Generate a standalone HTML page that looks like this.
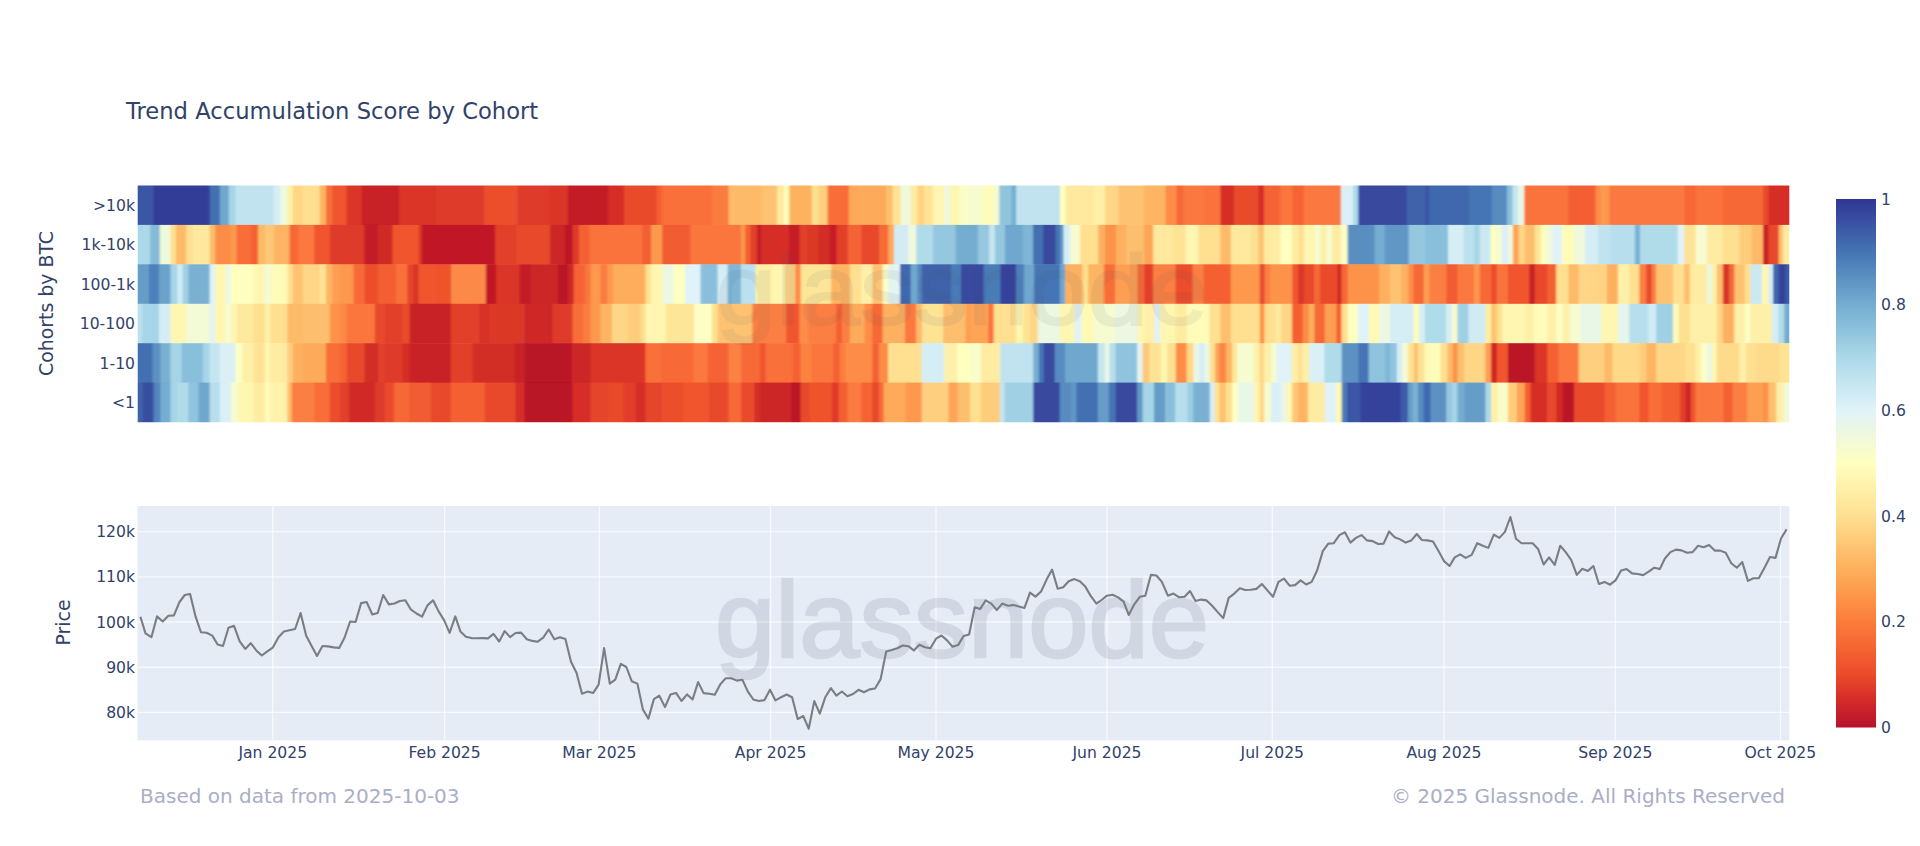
<!DOCTYPE html>
<html><head><meta charset="utf-8"><title>Trend Accumulation Score by Cohort</title>
<style>html,body{margin:0;padding:0;background:#fff;overflow:hidden}svg{display:block}</style></head>
<body>
<svg width="1920" height="846" viewBox="0 0 1920 846">
<rect width="1920" height="846" fill="#fff"/>
<text x="126" y="119" font-family="DejaVu Sans, Liberation Sans, sans-serif" font-size="22.65" fill="#31426a">Trend Accumulation Score by Cohort</text>
<defs><filter id="hb" x="-2%" y="-5%" width="104%" height="110%"><feGaussianBlur stdDeviation="1.1 0.45"/></filter><clipPath id="hc"><rect x="137.7" y="185.6" width="1651.6" height="236.6"/></clipPath></defs>
<g clip-path="url(#hc)"><g filter="url(#hb)">
<rect x="129.5" y="179.5" width="24.7" height="45.9" fill="#3b56a5"/>
<rect x="153.6" y="179.5" width="56.6" height="45.9" fill="#333c98"/>
<rect x="209.6" y="179.5" width="10.9" height="45.9" fill="#436fb1"/>
<rect x="219.9" y="179.5" width="9.6" height="45.9" fill="#6fa7ce"/>
<rect x="228.9" y="179.5" width="7.2" height="45.9" fill="#a6d5e7"/>
<rect x="235.4" y="179.5" width="38.9" height="45.9" fill="#c0e3ef"/>
<rect x="273.7" y="179.5" width="7.4" height="45.9" fill="#d5eef5"/>
<rect x="280.5" y="179.5" width="7.4" height="45.9" fill="#eff9dc"/>
<rect x="287.3" y="179.5" width="6.1" height="45.9" fill="#fef0a8"/>
<rect x="292.8" y="179.5" width="10.7" height="45.9" fill="#fed686"/>
<rect x="302.8" y="179.5" width="17.4" height="45.9" fill="#fee090"/>
<rect x="319.7" y="179.5" width="6.9" height="45.9" fill="#fdb563"/>
<rect x="326.0" y="179.5" width="6.7" height="45.9" fill="#f86d39"/>
<rect x="332.1" y="179.5" width="15.0" height="45.9" fill="#f0552d"/>
<rect x="346.6" y="179.5" width="15.9" height="45.9" fill="#da3428"/>
<rect x="361.9" y="179.5" width="37.8" height="45.9" fill="#c82127"/>
<rect x="399.1" y="179.5" width="37.8" height="45.9" fill="#da3428"/>
<rect x="436.2" y="179.5" width="48.7" height="45.9" fill="#de3b29"/>
<rect x="484.4" y="179.5" width="33.4" height="45.9" fill="#ec4e2c"/>
<rect x="517.2" y="179.5" width="33.4" height="45.9" fill="#de3b29"/>
<rect x="550.0" y="179.5" width="18.5" height="45.9" fill="#da3428"/>
<rect x="567.9" y="179.5" width="41.1" height="45.9" fill="#c41c27"/>
<rect x="608.4" y="179.5" width="16.4" height="45.9" fill="#d62f28"/>
<rect x="624.2" y="179.5" width="33.2" height="45.9" fill="#e94b2c"/>
<rect x="656.8" y="179.5" width="6.1" height="45.9" fill="#f46133"/>
<rect x="662.2" y="179.5" width="50.0" height="45.9" fill="#f9703a"/>
<rect x="711.7" y="179.5" width="17.4" height="45.9" fill="#fb7c40"/>
<rect x="728.5" y="179.5" width="34.3" height="45.9" fill="#fdba68"/>
<rect x="762.2" y="179.5" width="15.5" height="45.9" fill="#fdc372"/>
<rect x="777.1" y="179.5" width="7.4" height="45.9" fill="#fee99e"/>
<rect x="783.8" y="179.5" width="6.1" height="45.9" fill="#fffcba"/>
<rect x="789.3" y="179.5" width="23.1" height="45.9" fill="#fdb260"/>
<rect x="811.8" y="179.5" width="7.4" height="45.9" fill="#fee090"/>
<rect x="818.6" y="179.5" width="9.6" height="45.9" fill="#fecf7e"/>
<rect x="827.6" y="179.5" width="21.8" height="45.9" fill="#f86d39"/>
<rect x="848.8" y="179.5" width="9.6" height="45.9" fill="#fda758"/>
<rect x="857.8" y="179.5" width="28.8" height="45.9" fill="#fdaa5a"/>
<rect x="886.0" y="179.5" width="7.4" height="45.9" fill="#fdbe6d"/>
<rect x="892.8" y="179.5" width="8.5" height="45.9" fill="#fee395"/>
<rect x="900.7" y="179.5" width="10.7" height="45.9" fill="#eff9dc"/>
<rect x="910.7" y="179.5" width="7.4" height="45.9" fill="#feeca3"/>
<rect x="917.5" y="179.5" width="7.2" height="45.9" fill="#fed281"/>
<rect x="924.1" y="179.5" width="9.6" height="45.9" fill="#fee395"/>
<rect x="933.0" y="179.5" width="12.0" height="45.9" fill="#fff6b1"/>
<rect x="944.4" y="179.5" width="6.1" height="45.9" fill="#ecf8e1"/>
<rect x="949.9" y="179.5" width="10.7" height="45.9" fill="#fff6b1"/>
<rect x="959.9" y="179.5" width="10.7" height="45.9" fill="#f9fdca"/>
<rect x="970.0" y="179.5" width="13.1" height="45.9" fill="#f6fbd0"/>
<rect x="982.5" y="179.5" width="11.8" height="45.9" fill="#fffcba"/>
<rect x="993.6" y="179.5" width="6.3" height="45.9" fill="#f6fbd0"/>
<rect x="999.3" y="179.5" width="12.8" height="45.9" fill="#90c3dd"/>
<rect x="1011.6" y="179.5" width="5.2" height="45.9" fill="#74add1"/>
<rect x="1016.2" y="179.5" width="44.4" height="45.9" fill="#c0e3ef"/>
<rect x="1059.9" y="179.5" width="6.3" height="45.9" fill="#ffffbf"/>
<rect x="1065.6" y="179.5" width="28.6" height="45.9" fill="#fee99e"/>
<rect x="1093.6" y="179.5" width="12.0" height="45.9" fill="#fef0a8"/>
<rect x="1105.0" y="179.5" width="13.9" height="45.9" fill="#fed686"/>
<rect x="1118.3" y="179.5" width="26.4" height="45.9" fill="#fdc372"/>
<rect x="1144.1" y="179.5" width="22.0" height="45.9" fill="#fdb563"/>
<rect x="1165.6" y="179.5" width="11.8" height="45.9" fill="#fc8c47"/>
<rect x="1176.7" y="179.5" width="7.4" height="45.9" fill="#f66736"/>
<rect x="1183.5" y="179.5" width="20.7" height="45.9" fill="#fb793f"/>
<rect x="1203.6" y="179.5" width="17.4" height="45.9" fill="#fa733c"/>
<rect x="1220.5" y="179.5" width="14.2" height="45.9" fill="#d62f28"/>
<rect x="1234.0" y="179.5" width="24.9" height="45.9" fill="#e94b2c"/>
<rect x="1258.3" y="179.5" width="6.3" height="45.9" fill="#d62f28"/>
<rect x="1264.0" y="179.5" width="17.0" height="45.9" fill="#f56434"/>
<rect x="1280.4" y="179.5" width="12.8" height="45.9" fill="#fa763d"/>
<rect x="1292.7" y="179.5" width="11.8" height="45.9" fill="#f56434"/>
<rect x="1303.8" y="179.5" width="37.8" height="45.9" fill="#fb793f"/>
<rect x="1341.0" y="179.5" width="12.8" height="45.9" fill="#dbf0f6"/>
<rect x="1353.2" y="179.5" width="5.6" height="45.9" fill="#abd9e9"/>
<rect x="1358.3" y="179.5" width="32.3" height="45.9" fill="#37499e"/>
<rect x="1390.0" y="179.5" width="17.2" height="45.9" fill="#37499e"/>
<rect x="1406.6" y="179.5" width="19.0" height="45.9" fill="#3f62ab"/>
<rect x="1425.0" y="179.5" width="5.0" height="45.9" fill="#3b56a5"/>
<rect x="1429.4" y="179.5" width="40.0" height="45.9" fill="#4168ae"/>
<rect x="1468.8" y="179.5" width="23.8" height="45.9" fill="#4575b4"/>
<rect x="1491.9" y="179.5" width="15.7" height="45.9" fill="#588bc0"/>
<rect x="1507.0" y="179.5" width="6.1" height="45.9" fill="#8abfdb"/>
<rect x="1512.5" y="179.5" width="6.1" height="45.9" fill="#c5e6f0"/>
<rect x="1518.0" y="179.5" width="6.9" height="45.9" fill="#e9f7e7"/>
<rect x="1524.3" y="179.5" width="44.4" height="45.9" fill="#fa733c"/>
<rect x="1568.1" y="179.5" width="27.9" height="45.9" fill="#f35e32"/>
<rect x="1595.4" y="179.5" width="6.3" height="45.9" fill="#fc8c47"/>
<rect x="1601.1" y="179.5" width="8.9" height="45.9" fill="#fd984e"/>
<rect x="1609.4" y="179.5" width="75.4" height="45.9" fill="#fb793f"/>
<rect x="1684.2" y="179.5" width="12.0" height="45.9" fill="#f66736"/>
<rect x="1695.6" y="179.5" width="27.5" height="45.9" fill="#fa733c"/>
<rect x="1722.5" y="179.5" width="41.1" height="45.9" fill="#f66736"/>
<rect x="1763.0" y="179.5" width="6.1" height="45.9" fill="#e94b2c"/>
<rect x="1768.4" y="179.5" width="29.5" height="45.9" fill="#d62f28"/>
<rect x="129.5" y="224.9" width="21.2" height="39.9" fill="#abd9e9"/>
<rect x="150.1" y="224.9" width="10.2" height="39.9" fill="#84bad8"/>
<rect x="159.8" y="224.9" width="11.3" height="39.9" fill="#eff9dc"/>
<rect x="170.5" y="224.9" width="6.1" height="39.9" fill="#fee090"/>
<rect x="175.9" y="224.9" width="10.9" height="39.9" fill="#fdba68"/>
<rect x="186.2" y="224.9" width="7.2" height="39.9" fill="#fee090"/>
<rect x="192.8" y="224.9" width="17.4" height="39.9" fill="#fee99e"/>
<rect x="209.6" y="224.9" width="6.3" height="39.9" fill="#fdbe6d"/>
<rect x="215.3" y="224.9" width="15.3" height="39.9" fill="#fc8c47"/>
<rect x="230.0" y="224.9" width="7.4" height="39.9" fill="#fd984e"/>
<rect x="236.8" y="224.9" width="15.0" height="39.9" fill="#f86d39"/>
<rect x="251.2" y="224.9" width="7.4" height="39.9" fill="#f46133"/>
<rect x="258.0" y="224.9" width="7.4" height="39.9" fill="#fdba68"/>
<rect x="264.8" y="224.9" width="9.6" height="39.9" fill="#fec877"/>
<rect x="273.7" y="224.9" width="16.4" height="39.9" fill="#fdb563"/>
<rect x="289.5" y="224.9" width="9.6" height="39.9" fill="#f66736"/>
<rect x="298.4" y="224.9" width="16.4" height="39.9" fill="#fb793f"/>
<rect x="314.2" y="224.9" width="16.4" height="39.9" fill="#f0552d"/>
<rect x="329.9" y="224.9" width="34.7" height="39.9" fill="#de3b29"/>
<rect x="364.1" y="224.9" width="14.8" height="39.9" fill="#c41c27"/>
<rect x="378.3" y="224.9" width="14.8" height="39.9" fill="#d12a28"/>
<rect x="392.5" y="224.9" width="26.9" height="39.9" fill="#f0552d"/>
<rect x="418.8" y="224.9" width="3.9" height="39.9" fill="#da3428"/>
<rect x="422.0" y="224.9" width="73.9" height="39.9" fill="#c01827"/>
<rect x="495.3" y="224.9" width="22.5" height="39.9" fill="#e3412a"/>
<rect x="517.2" y="224.9" width="33.4" height="39.9" fill="#e7482b"/>
<rect x="550.0" y="224.9" width="15.3" height="39.9" fill="#cd2627"/>
<rect x="564.7" y="224.9" width="8.5" height="39.9" fill="#bd1627"/>
<rect x="572.5" y="224.9" width="7.2" height="39.9" fill="#de3b29"/>
<rect x="579.1" y="224.9" width="10.9" height="39.9" fill="#f46133"/>
<rect x="589.4" y="224.9" width="53.3" height="39.9" fill="#fa733c"/>
<rect x="642.1" y="224.9" width="9.6" height="39.9" fill="#f35e32"/>
<rect x="651.1" y="224.9" width="11.8" height="39.9" fill="#fd984e"/>
<rect x="662.2" y="224.9" width="28.8" height="39.9" fill="#f25b30"/>
<rect x="690.4" y="224.9" width="51.1" height="39.9" fill="#fa763d"/>
<rect x="741.0" y="224.9" width="4.8" height="39.9" fill="#fd984e"/>
<rect x="745.1" y="224.9" width="5.6" height="39.9" fill="#f46133"/>
<rect x="750.2" y="224.9" width="7.4" height="39.9" fill="#e3412a"/>
<rect x="756.9" y="224.9" width="5.0" height="39.9" fill="#c41c27"/>
<rect x="761.3" y="224.9" width="27.5" height="39.9" fill="#d62f28"/>
<rect x="788.2" y="224.9" width="12.0" height="39.9" fill="#c61e27"/>
<rect x="799.6" y="224.9" width="8.5" height="39.9" fill="#e3412a"/>
<rect x="807.5" y="224.9" width="11.8" height="39.9" fill="#dc3728"/>
<rect x="818.6" y="224.9" width="11.8" height="39.9" fill="#d32d28"/>
<rect x="829.8" y="224.9" width="7.4" height="39.9" fill="#c61e27"/>
<rect x="836.6" y="224.9" width="11.8" height="39.9" fill="#e3412a"/>
<rect x="847.7" y="224.9" width="14.2" height="39.9" fill="#f56434"/>
<rect x="861.3" y="224.9" width="18.5" height="39.9" fill="#e7482b"/>
<rect x="879.2" y="224.9" width="9.6" height="39.9" fill="#f76a38"/>
<rect x="888.2" y="224.9" width="6.3" height="39.9" fill="#fda758"/>
<rect x="893.9" y="224.9" width="15.0" height="39.9" fill="#d3ecf4"/>
<rect x="908.3" y="224.9" width="8.5" height="39.9" fill="#eff9dc"/>
<rect x="916.2" y="224.9" width="17.4" height="39.9" fill="#b0dcea"/>
<rect x="933.0" y="224.9" width="23.1" height="39.9" fill="#95c7df"/>
<rect x="955.6" y="224.9" width="15.0" height="39.9" fill="#74add1"/>
<rect x="970.0" y="224.9" width="8.7" height="39.9" fill="#74add1"/>
<rect x="978.1" y="224.9" width="11.8" height="39.9" fill="#95c7df"/>
<rect x="989.2" y="224.9" width="6.3" height="39.9" fill="#c5e6f0"/>
<rect x="994.9" y="224.9" width="10.7" height="39.9" fill="#95c7df"/>
<rect x="1005.0" y="224.9" width="18.5" height="39.9" fill="#6fa7ce"/>
<rect x="1022.9" y="224.9" width="10.7" height="39.9" fill="#7fb6d6"/>
<rect x="1033.0" y="224.9" width="10.7" height="39.9" fill="#436fb1"/>
<rect x="1043.1" y="224.9" width="13.1" height="39.9" fill="#37499e"/>
<rect x="1055.5" y="224.9" width="5.0" height="39.9" fill="#4575b4"/>
<rect x="1059.9" y="224.9" width="4.1" height="39.9" fill="#5d91c3"/>
<rect x="1063.4" y="224.9" width="7.4" height="39.9" fill="#d5eef5"/>
<rect x="1070.2" y="224.9" width="10.7" height="39.9" fill="#f6fbd0"/>
<rect x="1080.2" y="224.9" width="18.5" height="39.9" fill="#fee090"/>
<rect x="1098.2" y="224.9" width="7.4" height="39.9" fill="#fdb05e"/>
<rect x="1105.0" y="224.9" width="11.8" height="39.9" fill="#fd924a"/>
<rect x="1116.1" y="224.9" width="10.7" height="39.9" fill="#fdb05e"/>
<rect x="1126.2" y="224.9" width="18.5" height="39.9" fill="#fdbe6d"/>
<rect x="1144.1" y="224.9" width="9.6" height="39.9" fill="#fda456"/>
<rect x="1153.1" y="224.9" width="19.9" height="39.9" fill="#fee99e"/>
<rect x="1172.3" y="224.9" width="13.9" height="39.9" fill="#fee395"/>
<rect x="1185.7" y="224.9" width="13.1" height="39.9" fill="#fff6b1"/>
<rect x="1198.2" y="224.9" width="22.9" height="39.9" fill="#fee090"/>
<rect x="1220.5" y="224.9" width="10.9" height="39.9" fill="#fdba68"/>
<rect x="1230.8" y="224.9" width="20.7" height="39.9" fill="#fee99e"/>
<rect x="1250.9" y="224.9" width="8.0" height="39.9" fill="#fee090"/>
<rect x="1258.3" y="224.9" width="6.3" height="39.9" fill="#fdc372"/>
<rect x="1264.0" y="224.9" width="17.0" height="39.9" fill="#feeca3"/>
<rect x="1280.4" y="224.9" width="11.8" height="39.9" fill="#ffffbf"/>
<rect x="1291.6" y="224.9" width="7.4" height="39.9" fill="#feeca3"/>
<rect x="1298.3" y="224.9" width="6.1" height="39.9" fill="#fee090"/>
<rect x="1303.8" y="224.9" width="12.0" height="39.9" fill="#fff6b1"/>
<rect x="1315.2" y="224.9" width="6.1" height="39.9" fill="#f6fbd0"/>
<rect x="1320.7" y="224.9" width="6.3" height="39.9" fill="#fef0a8"/>
<rect x="1326.3" y="224.9" width="6.3" height="39.9" fill="#f6fbd0"/>
<rect x="1332.0" y="224.9" width="9.6" height="39.9" fill="#feeca3"/>
<rect x="1341.0" y="224.9" width="7.2" height="39.9" fill="#fcfec5"/>
<rect x="1347.6" y="224.9" width="27.7" height="39.9" fill="#5a8ec1"/>
<rect x="1374.7" y="224.9" width="10.7" height="39.9" fill="#74add1"/>
<rect x="1384.8" y="224.9" width="5.8" height="39.9" fill="#6197c5"/>
<rect x="1390.0" y="224.9" width="19.2" height="39.9" fill="#6197c5"/>
<rect x="1408.6" y="224.9" width="17.0" height="39.9" fill="#95c7df"/>
<rect x="1425.0" y="224.9" width="23.6" height="39.9" fill="#8abfdb"/>
<rect x="1448.0" y="224.9" width="15.9" height="39.9" fill="#d5eef5"/>
<rect x="1463.3" y="224.9" width="11.5" height="39.9" fill="#bbe1ee"/>
<rect x="1474.2" y="224.9" width="6.1" height="39.9" fill="#a6d5e7"/>
<rect x="1479.7" y="224.9" width="11.5" height="39.9" fill="#cbe9f2"/>
<rect x="1490.6" y="224.9" width="5.6" height="39.9" fill="#ffffbf"/>
<rect x="1495.7" y="224.9" width="6.7" height="39.9" fill="#f6fbd0"/>
<rect x="1501.8" y="224.9" width="6.7" height="39.9" fill="#dbf0f6"/>
<rect x="1507.9" y="224.9" width="5.6" height="39.9" fill="#eff9dc"/>
<rect x="1512.9" y="224.9" width="6.3" height="39.9" fill="#fda456"/>
<rect x="1518.6" y="224.9" width="6.7" height="39.9" fill="#fed686"/>
<rect x="1524.8" y="224.9" width="10.7" height="39.9" fill="#fdbe6d"/>
<rect x="1534.8" y="224.9" width="6.3" height="39.9" fill="#fee395"/>
<rect x="1540.5" y="224.9" width="6.3" height="39.9" fill="#fffcba"/>
<rect x="1546.2" y="224.9" width="7.2" height="39.9" fill="#eff9dc"/>
<rect x="1552.8" y="224.9" width="9.6" height="39.9" fill="#e0f3f8"/>
<rect x="1561.7" y="224.9" width="13.1" height="39.9" fill="#fffcba"/>
<rect x="1574.2" y="224.9" width="11.8" height="39.9" fill="#eff9dc"/>
<rect x="1585.3" y="224.9" width="13.1" height="39.9" fill="#d5eef5"/>
<rect x="1597.8" y="224.9" width="12.8" height="39.9" fill="#c0e3ef"/>
<rect x="1610.1" y="224.9" width="25.5" height="39.9" fill="#b6deec"/>
<rect x="1635.0" y="224.9" width="5.6" height="39.9" fill="#7ab1d3"/>
<rect x="1640.0" y="224.9" width="38.2" height="39.9" fill="#b0dcea"/>
<rect x="1677.7" y="224.9" width="7.2" height="39.9" fill="#e0f3f8"/>
<rect x="1684.2" y="224.9" width="12.0" height="39.9" fill="#fee395"/>
<rect x="1695.6" y="224.9" width="11.8" height="39.9" fill="#f6fbd0"/>
<rect x="1706.8" y="224.9" width="16.4" height="39.9" fill="#feeca3"/>
<rect x="1722.5" y="224.9" width="17.4" height="39.9" fill="#fee090"/>
<rect x="1739.3" y="224.9" width="12.8" height="39.9" fill="#fecd7c"/>
<rect x="1751.6" y="224.9" width="12.0" height="39.9" fill="#fdba68"/>
<rect x="1763.0" y="224.9" width="6.1" height="39.9" fill="#c82127"/>
<rect x="1768.4" y="224.9" width="10.9" height="39.9" fill="#e7482b"/>
<rect x="1778.7" y="224.9" width="5.0" height="39.9" fill="#fdbe6d"/>
<rect x="1783.1" y="224.9" width="14.8" height="39.9" fill="#feeca3"/>
<rect x="129.5" y="264.3" width="20.1" height="39.9" fill="#669cc8"/>
<rect x="149.0" y="264.3" width="10.7" height="39.9" fill="#4e80ba"/>
<rect x="159.1" y="264.3" width="12.0" height="39.9" fill="#6ba2cb"/>
<rect x="170.5" y="264.3" width="7.4" height="39.9" fill="#a6d5e7"/>
<rect x="177.2" y="264.3" width="6.1" height="39.9" fill="#d0ebf4"/>
<rect x="182.7" y="264.3" width="6.3" height="39.9" fill="#a0d0e4"/>
<rect x="188.4" y="264.3" width="21.8" height="39.9" fill="#7ab1d3"/>
<rect x="209.6" y="264.3" width="6.3" height="39.9" fill="#e0f3f8"/>
<rect x="215.3" y="264.3" width="10.7" height="39.9" fill="#fff6b1"/>
<rect x="225.4" y="264.3" width="6.3" height="39.9" fill="#ecf8e1"/>
<rect x="231.1" y="264.3" width="23.1" height="39.9" fill="#ffffbf"/>
<rect x="253.6" y="264.3" width="11.8" height="39.9" fill="#fff6b1"/>
<rect x="264.8" y="264.3" width="6.3" height="39.9" fill="#f3fad6"/>
<rect x="270.4" y="264.3" width="17.4" height="39.9" fill="#fffcba"/>
<rect x="287.3" y="264.3" width="6.1" height="39.9" fill="#fee090"/>
<rect x="292.8" y="264.3" width="10.7" height="39.9" fill="#fdc372"/>
<rect x="302.8" y="264.3" width="17.4" height="39.9" fill="#fed686"/>
<rect x="319.7" y="264.3" width="6.9" height="39.9" fill="#fee395"/>
<rect x="326.0" y="264.3" width="6.7" height="39.9" fill="#fdb563"/>
<rect x="332.1" y="264.3" width="8.5" height="39.9" fill="#fd9e52"/>
<rect x="340.0" y="264.3" width="14.2" height="39.9" fill="#fd984e"/>
<rect x="353.6" y="264.3" width="11.8" height="39.9" fill="#f76a38"/>
<rect x="364.7" y="264.3" width="14.2" height="39.9" fill="#ec4e2c"/>
<rect x="378.3" y="264.3" width="18.5" height="39.9" fill="#f35e32"/>
<rect x="396.2" y="264.3" width="11.8" height="39.9" fill="#f9703a"/>
<rect x="407.4" y="264.3" width="6.3" height="39.9" fill="#e5442a"/>
<rect x="413.1" y="264.3" width="6.1" height="39.9" fill="#da3428"/>
<rect x="418.5" y="264.3" width="17.4" height="39.9" fill="#f0552d"/>
<rect x="435.4" y="264.3" width="16.4" height="39.9" fill="#ee522c"/>
<rect x="451.1" y="264.3" width="35.4" height="39.9" fill="#fc8946"/>
<rect x="485.9" y="264.3" width="10.7" height="39.9" fill="#c01827"/>
<rect x="496.0" y="264.3" width="24.2" height="39.9" fill="#da3428"/>
<rect x="519.6" y="264.3" width="12.0" height="39.9" fill="#c41c27"/>
<rect x="531.0" y="264.3" width="19.6" height="39.9" fill="#cd2627"/>
<rect x="550.0" y="264.3" width="8.5" height="39.9" fill="#cd2627"/>
<rect x="557.9" y="264.3" width="10.9" height="39.9" fill="#b91226"/>
<rect x="568.2" y="264.3" width="6.1" height="39.9" fill="#cd2627"/>
<rect x="573.6" y="264.3" width="12.0" height="39.9" fill="#f56434"/>
<rect x="585.0" y="264.3" width="6.1" height="39.9" fill="#fa763d"/>
<rect x="590.5" y="264.3" width="10.7" height="39.9" fill="#fd984e"/>
<rect x="600.5" y="264.3" width="7.4" height="39.9" fill="#fb7c40"/>
<rect x="607.3" y="264.3" width="6.3" height="39.9" fill="#fd984e"/>
<rect x="613.0" y="264.3" width="33.2" height="39.9" fill="#fdad5c"/>
<rect x="645.6" y="264.3" width="6.1" height="39.9" fill="#fee395"/>
<rect x="651.1" y="264.3" width="12.0" height="39.9" fill="#fff6b1"/>
<rect x="662.4" y="264.3" width="11.8" height="39.9" fill="#ecf8e1"/>
<rect x="673.6" y="264.3" width="12.0" height="39.9" fill="#ffffbf"/>
<rect x="685.0" y="264.3" width="16.1" height="39.9" fill="#e0f3f8"/>
<rect x="700.5" y="264.3" width="17.7" height="39.9" fill="#8abfdb"/>
<rect x="717.6" y="264.3" width="10.7" height="39.9" fill="#d5eef5"/>
<rect x="727.6" y="264.3" width="13.9" height="39.9" fill="#7fb6d6"/>
<rect x="741.0" y="264.3" width="15.3" height="39.9" fill="#bbe1ee"/>
<rect x="755.6" y="264.3" width="17.4" height="39.9" fill="#fef0a8"/>
<rect x="772.5" y="264.3" width="13.1" height="39.9" fill="#fff6b1"/>
<rect x="784.9" y="264.3" width="10.7" height="39.9" fill="#fed686"/>
<rect x="795.0" y="264.3" width="6.3" height="39.9" fill="#fc8c47"/>
<rect x="800.7" y="264.3" width="31.0" height="39.9" fill="#fee699"/>
<rect x="831.1" y="264.3" width="19.4" height="39.9" fill="#fdb563"/>
<rect x="849.9" y="264.3" width="12.0" height="39.9" fill="#fee090"/>
<rect x="861.3" y="264.3" width="11.8" height="39.9" fill="#fef0a8"/>
<rect x="872.4" y="264.3" width="10.7" height="39.9" fill="#fdc372"/>
<rect x="882.5" y="264.3" width="6.3" height="39.9" fill="#fcfec5"/>
<rect x="888.2" y="264.3" width="12.4" height="39.9" fill="#e3f4f2"/>
<rect x="900.0" y="264.3" width="11.3" height="39.9" fill="#4168ae"/>
<rect x="910.7" y="264.3" width="7.2" height="39.9" fill="#6fa7ce"/>
<rect x="917.3" y="264.3" width="5.2" height="39.9" fill="#5386bd"/>
<rect x="921.9" y="264.3" width="29.7" height="39.9" fill="#3f62ab"/>
<rect x="951.0" y="264.3" width="10.7" height="39.9" fill="#4a7bb7"/>
<rect x="961.0" y="264.3" width="9.6" height="39.9" fill="#37499e"/>
<rect x="970.0" y="264.3" width="14.2" height="39.9" fill="#37499e"/>
<rect x="983.6" y="264.3" width="17.4" height="39.9" fill="#4a7bb7"/>
<rect x="1000.4" y="264.3" width="16.4" height="39.9" fill="#35439b"/>
<rect x="1016.2" y="264.3" width="8.5" height="39.9" fill="#4e80ba"/>
<rect x="1024.0" y="264.3" width="10.7" height="39.9" fill="#6fa7ce"/>
<rect x="1034.1" y="264.3" width="26.4" height="39.9" fill="#4575b4"/>
<rect x="1059.9" y="264.3" width="5.8" height="39.9" fill="#6fa7ce"/>
<rect x="1065.2" y="264.3" width="17.9" height="39.9" fill="#fdb05e"/>
<rect x="1082.4" y="264.3" width="6.3" height="39.9" fill="#fee090"/>
<rect x="1088.1" y="264.3" width="16.4" height="39.9" fill="#fdb563"/>
<rect x="1103.9" y="264.3" width="11.8" height="39.9" fill="#f86d39"/>
<rect x="1115.0" y="264.3" width="23.1" height="39.9" fill="#fd9e52"/>
<rect x="1137.6" y="264.3" width="7.2" height="39.9" fill="#f66736"/>
<rect x="1144.1" y="264.3" width="9.6" height="39.9" fill="#e3412a"/>
<rect x="1153.1" y="264.3" width="23.1" height="39.9" fill="#fb7f42"/>
<rect x="1175.6" y="264.3" width="17.4" height="39.9" fill="#ec4e2c"/>
<rect x="1192.5" y="264.3" width="11.8" height="39.9" fill="#fb7f42"/>
<rect x="1203.6" y="264.3" width="27.7" height="39.9" fill="#f46133"/>
<rect x="1230.8" y="264.3" width="29.7" height="39.9" fill="#fd984e"/>
<rect x="1259.8" y="264.3" width="5.2" height="39.9" fill="#e7482b"/>
<rect x="1264.4" y="264.3" width="6.3" height="39.9" fill="#fb7f42"/>
<rect x="1270.1" y="264.3" width="22.9" height="39.9" fill="#fd924a"/>
<rect x="1292.4" y="264.3" width="6.3" height="39.9" fill="#f0552d"/>
<rect x="1298.1" y="264.3" width="6.3" height="39.9" fill="#da3428"/>
<rect x="1303.8" y="264.3" width="10.7" height="39.9" fill="#e7482b"/>
<rect x="1313.9" y="264.3" width="6.7" height="39.9" fill="#f66736"/>
<rect x="1320.0" y="264.3" width="18.1" height="39.9" fill="#e94b2c"/>
<rect x="1337.5" y="264.3" width="4.5" height="39.9" fill="#cd2627"/>
<rect x="1341.4" y="264.3" width="6.7" height="39.9" fill="#f66736"/>
<rect x="1347.6" y="264.3" width="32.1" height="39.9" fill="#fd924a"/>
<rect x="1379.1" y="264.3" width="11.5" height="39.9" fill="#fdb05e"/>
<rect x="1390.0" y="264.3" width="11.8" height="39.9" fill="#fdc372"/>
<rect x="1401.2" y="264.3" width="8.0" height="39.9" fill="#fdb05e"/>
<rect x="1408.6" y="264.3" width="5.6" height="39.9" fill="#fc8c47"/>
<rect x="1413.6" y="264.3" width="10.7" height="39.9" fill="#f66736"/>
<rect x="1423.7" y="264.3" width="6.3" height="39.9" fill="#fd9e52"/>
<rect x="1429.4" y="264.3" width="17.4" height="39.9" fill="#fb7f42"/>
<rect x="1446.2" y="264.3" width="11.8" height="39.9" fill="#f25b30"/>
<rect x="1457.4" y="264.3" width="17.4" height="39.9" fill="#fb793f"/>
<rect x="1474.2" y="264.3" width="6.3" height="39.9" fill="#fd984e"/>
<rect x="1479.9" y="264.3" width="11.8" height="39.9" fill="#f66736"/>
<rect x="1491.1" y="264.3" width="6.3" height="39.9" fill="#ec4e2c"/>
<rect x="1496.8" y="264.3" width="11.8" height="39.9" fill="#fa733c"/>
<rect x="1507.9" y="264.3" width="22.0" height="39.9" fill="#f0552d"/>
<rect x="1529.3" y="264.3" width="6.1" height="39.9" fill="#c82127"/>
<rect x="1534.8" y="264.3" width="13.1" height="39.9" fill="#e7482b"/>
<rect x="1547.3" y="264.3" width="9.6" height="39.9" fill="#f46133"/>
<rect x="1556.2" y="264.3" width="12.8" height="39.9" fill="#fee090"/>
<rect x="1568.5" y="264.3" width="10.7" height="39.9" fill="#fdba68"/>
<rect x="1578.6" y="264.3" width="14.2" height="39.9" fill="#fed686"/>
<rect x="1592.1" y="264.3" width="15.3" height="39.9" fill="#fed484"/>
<rect x="1606.8" y="264.3" width="11.8" height="39.9" fill="#fdb05e"/>
<rect x="1617.9" y="264.3" width="12.0" height="39.9" fill="#fef0a8"/>
<rect x="1629.3" y="264.3" width="10.7" height="39.9" fill="#fee090"/>
<rect x="1639.4" y="264.3" width="7.4" height="39.9" fill="#fb7f42"/>
<rect x="1646.2" y="264.3" width="6.1" height="39.9" fill="#e7482b"/>
<rect x="1651.6" y="264.3" width="5.2" height="39.9" fill="#fb7f42"/>
<rect x="1656.2" y="264.3" width="17.4" height="39.9" fill="#fdc372"/>
<rect x="1673.1" y="264.3" width="11.8" height="39.9" fill="#fee090"/>
<rect x="1684.2" y="264.3" width="6.3" height="39.9" fill="#fdbe6d"/>
<rect x="1689.9" y="264.3" width="17.4" height="39.9" fill="#feeca3"/>
<rect x="1706.8" y="264.3" width="5.6" height="39.9" fill="#ecf8e1"/>
<rect x="1711.8" y="264.3" width="5.6" height="39.9" fill="#fef0a8"/>
<rect x="1716.8" y="264.3" width="6.7" height="39.9" fill="#fdbe6d"/>
<rect x="1722.9" y="264.3" width="6.9" height="39.9" fill="#da3428"/>
<rect x="1729.3" y="264.3" width="5.6" height="39.9" fill="#f66736"/>
<rect x="1734.3" y="264.3" width="11.1" height="39.9" fill="#fdc372"/>
<rect x="1744.8" y="264.3" width="6.3" height="39.9" fill="#fee090"/>
<rect x="1750.5" y="264.3" width="12.0" height="39.9" fill="#cbe9f2"/>
<rect x="1761.9" y="264.3" width="7.2" height="39.9" fill="#fff6b1"/>
<rect x="1768.4" y="264.3" width="5.2" height="39.9" fill="#d5eef5"/>
<rect x="1773.0" y="264.3" width="6.1" height="39.9" fill="#4168ae"/>
<rect x="1778.5" y="264.3" width="7.6" height="39.9" fill="#35439b"/>
<rect x="1785.5" y="264.3" width="12.4" height="39.9" fill="#3d5ca8"/>
<rect x="129.5" y="303.8" width="13.3" height="39.9" fill="#bbe1ee"/>
<rect x="142.2" y="303.8" width="17.4" height="39.9" fill="#a6d5e7"/>
<rect x="159.1" y="303.8" width="12.0" height="39.9" fill="#d5eef5"/>
<rect x="170.5" y="303.8" width="16.4" height="39.9" fill="#fff6b1"/>
<rect x="186.2" y="303.8" width="24.0" height="39.9" fill="#f3fad6"/>
<rect x="209.6" y="303.8" width="6.3" height="39.9" fill="#e3f4f2"/>
<rect x="215.3" y="303.8" width="10.7" height="39.9" fill="#fff6b1"/>
<rect x="225.4" y="303.8" width="6.3" height="39.9" fill="#f6fbd0"/>
<rect x="231.1" y="303.8" width="6.3" height="39.9" fill="#fff6b1"/>
<rect x="236.8" y="303.8" width="17.4" height="39.9" fill="#fee99e"/>
<rect x="253.6" y="303.8" width="11.8" height="39.9" fill="#fee090"/>
<rect x="264.8" y="303.8" width="6.3" height="39.9" fill="#fef0a8"/>
<rect x="270.4" y="303.8" width="17.4" height="39.9" fill="#fee090"/>
<rect x="287.3" y="303.8" width="16.1" height="39.9" fill="#fdba68"/>
<rect x="302.8" y="303.8" width="27.7" height="39.9" fill="#fdbe6d"/>
<rect x="329.9" y="303.8" width="10.7" height="39.9" fill="#fd924a"/>
<rect x="340.0" y="303.8" width="7.4" height="39.9" fill="#fc8946"/>
<rect x="346.8" y="303.8" width="28.6" height="39.9" fill="#fa763d"/>
<rect x="374.8" y="303.8" width="10.7" height="39.9" fill="#e7482b"/>
<rect x="384.8" y="303.8" width="18.5" height="39.9" fill="#e3412a"/>
<rect x="402.8" y="303.8" width="7.4" height="39.9" fill="#e94b2c"/>
<rect x="409.6" y="303.8" width="42.2" height="39.9" fill="#c82127"/>
<rect x="451.1" y="303.8" width="28.6" height="39.9" fill="#e3412a"/>
<rect x="479.1" y="303.8" width="10.9" height="39.9" fill="#d83228"/>
<rect x="489.4" y="303.8" width="35.4" height="39.9" fill="#dc3728"/>
<rect x="524.2" y="303.8" width="26.4" height="39.9" fill="#cf2828"/>
<rect x="550.0" y="303.8" width="3.0" height="39.9" fill="#cd2627"/>
<rect x="552.4" y="303.8" width="20.7" height="39.9" fill="#de3b29"/>
<rect x="572.5" y="303.8" width="10.7" height="39.9" fill="#f86d39"/>
<rect x="582.6" y="303.8" width="8.5" height="39.9" fill="#fb7c40"/>
<rect x="590.5" y="303.8" width="10.7" height="39.9" fill="#fd984e"/>
<rect x="600.5" y="303.8" width="12.0" height="39.9" fill="#fdb563"/>
<rect x="611.9" y="303.8" width="16.4" height="39.9" fill="#fed686"/>
<rect x="627.7" y="303.8" width="13.9" height="39.9" fill="#fecd7c"/>
<rect x="641.0" y="303.8" width="5.2" height="39.9" fill="#fee090"/>
<rect x="645.6" y="303.8" width="20.9" height="39.9" fill="#fff6b1"/>
<rect x="665.9" y="303.8" width="28.6" height="39.9" fill="#fee699"/>
<rect x="693.9" y="303.8" width="18.5" height="39.9" fill="#fcfec5"/>
<rect x="711.9" y="303.8" width="6.3" height="39.9" fill="#fee090"/>
<rect x="717.6" y="303.8" width="35.4" height="39.9" fill="#fdc372"/>
<rect x="752.3" y="303.8" width="34.5" height="39.9" fill="#fb7f42"/>
<rect x="786.2" y="303.8" width="13.7" height="39.9" fill="#f0552d"/>
<rect x="799.4" y="303.8" width="9.6" height="39.9" fill="#fc8c47"/>
<rect x="808.3" y="303.8" width="28.4" height="39.9" fill="#fb7f42"/>
<rect x="836.1" y="303.8" width="6.5" height="39.9" fill="#f46133"/>
<rect x="842.0" y="303.8" width="8.5" height="39.9" fill="#fb7f42"/>
<rect x="849.9" y="303.8" width="15.3" height="39.9" fill="#fdaa5a"/>
<rect x="864.6" y="303.8" width="8.5" height="39.9" fill="#fc8c47"/>
<rect x="872.4" y="303.8" width="10.7" height="39.9" fill="#f66736"/>
<rect x="882.5" y="303.8" width="23.1" height="39.9" fill="#fdb05e"/>
<rect x="905.0" y="303.8" width="11.8" height="39.9" fill="#fb793f"/>
<rect x="916.2" y="303.8" width="6.3" height="39.9" fill="#fdba68"/>
<rect x="921.9" y="303.8" width="21.8" height="39.9" fill="#fee395"/>
<rect x="943.1" y="303.8" width="23.1" height="39.9" fill="#fdbe6d"/>
<rect x="965.6" y="303.8" width="5.0" height="39.9" fill="#fd9e52"/>
<rect x="970.0" y="303.8" width="18.8" height="39.9" fill="#fda456"/>
<rect x="988.2" y="303.8" width="6.1" height="39.9" fill="#fa733c"/>
<rect x="993.6" y="303.8" width="23.1" height="39.9" fill="#fee090"/>
<rect x="1016.2" y="303.8" width="7.4" height="39.9" fill="#fff6b1"/>
<rect x="1022.9" y="303.8" width="7.4" height="39.9" fill="#fee395"/>
<rect x="1029.7" y="303.8" width="8.5" height="39.9" fill="#fed686"/>
<rect x="1037.6" y="303.8" width="22.9" height="39.9" fill="#ecf8e1"/>
<rect x="1059.9" y="303.8" width="15.3" height="39.9" fill="#fff6b1"/>
<rect x="1074.6" y="303.8" width="7.4" height="39.9" fill="#e0f3f8"/>
<rect x="1081.3" y="303.8" width="12.8" height="39.9" fill="#fff9b6"/>
<rect x="1093.6" y="303.8" width="22.0" height="39.9" fill="#f6fbd0"/>
<rect x="1115.0" y="303.8" width="23.1" height="39.9" fill="#ecf8e1"/>
<rect x="1137.6" y="303.8" width="7.2" height="39.9" fill="#fff6b1"/>
<rect x="1144.1" y="303.8" width="10.9" height="39.9" fill="#fef0a8"/>
<rect x="1154.4" y="303.8" width="6.1" height="39.9" fill="#e0f3f8"/>
<rect x="1159.9" y="303.8" width="16.4" height="39.9" fill="#fff6b1"/>
<rect x="1175.6" y="303.8" width="11.8" height="39.9" fill="#feeca3"/>
<rect x="1186.8" y="303.8" width="23.1" height="39.9" fill="#fffcba"/>
<rect x="1209.3" y="303.8" width="11.8" height="39.9" fill="#fee090"/>
<rect x="1220.5" y="303.8" width="10.9" height="39.9" fill="#fdbe6d"/>
<rect x="1230.8" y="303.8" width="29.7" height="39.9" fill="#fee090"/>
<rect x="1259.8" y="303.8" width="5.2" height="39.9" fill="#fd924a"/>
<rect x="1264.4" y="303.8" width="11.3" height="39.9" fill="#fee090"/>
<rect x="1275.2" y="303.8" width="6.7" height="39.9" fill="#fee99e"/>
<rect x="1281.3" y="303.8" width="11.3" height="39.9" fill="#fed686"/>
<rect x="1292.0" y="303.8" width="11.3" height="39.9" fill="#f46133"/>
<rect x="1302.7" y="303.8" width="6.7" height="39.9" fill="#fc8c47"/>
<rect x="1308.8" y="303.8" width="6.3" height="39.9" fill="#fdb05e"/>
<rect x="1314.5" y="303.8" width="10.7" height="39.9" fill="#f66736"/>
<rect x="1324.6" y="303.8" width="12.4" height="39.9" fill="#fd9e52"/>
<rect x="1336.4" y="303.8" width="5.6" height="39.9" fill="#f46133"/>
<rect x="1341.4" y="303.8" width="6.7" height="39.9" fill="#fee090"/>
<rect x="1347.6" y="303.8" width="10.7" height="39.9" fill="#ffffbf"/>
<rect x="1357.6" y="303.8" width="11.8" height="39.9" fill="#e0f3f8"/>
<rect x="1368.8" y="303.8" width="10.9" height="39.9" fill="#fff9b6"/>
<rect x="1379.1" y="303.8" width="11.5" height="39.9" fill="#ecf8e1"/>
<rect x="1390.0" y="303.8" width="24.2" height="39.9" fill="#d5eef5"/>
<rect x="1413.6" y="303.8" width="6.1" height="39.9" fill="#fffcba"/>
<rect x="1419.1" y="303.8" width="6.3" height="39.9" fill="#d5eef5"/>
<rect x="1424.8" y="303.8" width="22.0" height="39.9" fill="#b0dcea"/>
<rect x="1446.2" y="303.8" width="6.1" height="39.9" fill="#d5eef5"/>
<rect x="1451.7" y="303.8" width="6.3" height="39.9" fill="#f6fbd0"/>
<rect x="1457.4" y="303.8" width="11.8" height="39.9" fill="#a0d0e4"/>
<rect x="1468.5" y="303.8" width="17.4" height="39.9" fill="#d0ebf4"/>
<rect x="1485.4" y="303.8" width="6.3" height="39.9" fill="#feeca3"/>
<rect x="1491.1" y="303.8" width="6.3" height="39.9" fill="#fdc372"/>
<rect x="1496.8" y="303.8" width="6.1" height="39.9" fill="#fee090"/>
<rect x="1502.2" y="303.8" width="23.1" height="39.9" fill="#fff6b1"/>
<rect x="1524.8" y="303.8" width="9.6" height="39.9" fill="#fef0a8"/>
<rect x="1533.7" y="303.8" width="14.2" height="39.9" fill="#fffcba"/>
<rect x="1547.3" y="303.8" width="9.6" height="39.9" fill="#fef0a8"/>
<rect x="1556.2" y="303.8" width="7.2" height="39.9" fill="#fcfec5"/>
<rect x="1562.8" y="303.8" width="7.4" height="39.9" fill="#fef0a8"/>
<rect x="1569.6" y="303.8" width="12.0" height="39.9" fill="#f6fbd0"/>
<rect x="1581.0" y="303.8" width="20.7" height="39.9" fill="#e9f7e7"/>
<rect x="1601.1" y="303.8" width="17.4" height="39.9" fill="#fff6b1"/>
<rect x="1617.9" y="303.8" width="12.0" height="39.9" fill="#e6f5ed"/>
<rect x="1629.3" y="303.8" width="19.6" height="39.9" fill="#b6deec"/>
<rect x="1648.3" y="303.8" width="8.5" height="39.9" fill="#d0ebf4"/>
<rect x="1656.2" y="303.8" width="17.4" height="39.9" fill="#a0d0e4"/>
<rect x="1673.1" y="303.8" width="6.3" height="39.9" fill="#fffcba"/>
<rect x="1678.8" y="303.8" width="11.8" height="39.9" fill="#fee090"/>
<rect x="1689.9" y="303.8" width="27.5" height="39.9" fill="#fef0a8"/>
<rect x="1716.8" y="303.8" width="6.7" height="39.9" fill="#fed686"/>
<rect x="1722.9" y="303.8" width="12.0" height="39.9" fill="#fdb05e"/>
<rect x="1734.3" y="303.8" width="11.1" height="39.9" fill="#fef0a8"/>
<rect x="1744.8" y="303.8" width="6.3" height="39.9" fill="#fcfec5"/>
<rect x="1750.5" y="303.8" width="22.0" height="39.9" fill="#fef0a8"/>
<rect x="1771.9" y="303.8" width="7.2" height="39.9" fill="#d5eef5"/>
<rect x="1778.5" y="303.8" width="6.3" height="39.9" fill="#b0dcea"/>
<rect x="1784.2" y="303.8" width="13.7" height="39.9" fill="#74add1"/>
<rect x="129.5" y="343.2" width="23.6" height="39.9" fill="#436fb1"/>
<rect x="152.5" y="343.2" width="8.5" height="39.9" fill="#5d91c3"/>
<rect x="160.4" y="343.2" width="10.7" height="39.9" fill="#7ab1d3"/>
<rect x="170.5" y="343.2" width="11.8" height="39.9" fill="#a6d5e7"/>
<rect x="181.6" y="343.2" width="22.0" height="39.9" fill="#8abfdb"/>
<rect x="203.1" y="343.2" width="7.2" height="39.9" fill="#a6d5e7"/>
<rect x="209.6" y="343.2" width="10.9" height="39.9" fill="#c5e6f0"/>
<rect x="219.9" y="343.2" width="16.1" height="39.9" fill="#dbf0f6"/>
<rect x="235.4" y="343.2" width="7.4" height="39.9" fill="#fcfec5"/>
<rect x="242.2" y="343.2" width="12.0" height="39.9" fill="#fef0a8"/>
<rect x="253.6" y="343.2" width="11.8" height="39.9" fill="#fee395"/>
<rect x="264.8" y="343.2" width="6.3" height="39.9" fill="#fff6b1"/>
<rect x="270.4" y="343.2" width="17.4" height="39.9" fill="#feeca3"/>
<rect x="287.3" y="343.2" width="6.1" height="39.9" fill="#fecd7c"/>
<rect x="292.8" y="343.2" width="10.7" height="39.9" fill="#fdb05e"/>
<rect x="302.8" y="343.2" width="23.8" height="39.9" fill="#fdaa5a"/>
<rect x="326.0" y="343.2" width="14.6" height="39.9" fill="#f86d39"/>
<rect x="340.0" y="343.2" width="7.4" height="39.9" fill="#f56434"/>
<rect x="346.8" y="343.2" width="18.5" height="39.9" fill="#e7482b"/>
<rect x="364.7" y="343.2" width="14.2" height="39.9" fill="#d32d28"/>
<rect x="378.3" y="343.2" width="7.2" height="39.9" fill="#e3412a"/>
<rect x="384.8" y="343.2" width="18.5" height="39.9" fill="#de3b29"/>
<rect x="402.8" y="343.2" width="7.4" height="39.9" fill="#d62f28"/>
<rect x="409.6" y="343.2" width="42.2" height="39.9" fill="#c82127"/>
<rect x="451.1" y="343.2" width="22.0" height="39.9" fill="#e3412a"/>
<rect x="472.6" y="343.2" width="42.2" height="39.9" fill="#d32d28"/>
<rect x="514.1" y="343.2" width="10.7" height="39.9" fill="#c82127"/>
<rect x="524.2" y="343.2" width="26.4" height="39.9" fill="#b91226"/>
<rect x="550.0" y="343.2" width="22.0" height="39.9" fill="#b91226"/>
<rect x="571.4" y="343.2" width="19.6" height="39.9" fill="#cd2627"/>
<rect x="590.5" y="343.2" width="55.5" height="39.9" fill="#da3428"/>
<rect x="645.4" y="343.2" width="16.4" height="39.9" fill="#f9703a"/>
<rect x="661.1" y="343.2" width="33.2" height="39.9" fill="#f76a38"/>
<rect x="693.7" y="343.2" width="14.2" height="39.9" fill="#fb793f"/>
<rect x="707.3" y="343.2" width="21.8" height="39.9" fill="#f56434"/>
<rect x="728.5" y="343.2" width="13.1" height="39.9" fill="#fc8243"/>
<rect x="741.0" y="343.2" width="19.6" height="39.9" fill="#f76a38"/>
<rect x="760.0" y="343.2" width="6.3" height="39.9" fill="#f0552d"/>
<rect x="765.7" y="343.2" width="27.5" height="39.9" fill="#f9703a"/>
<rect x="792.6" y="343.2" width="8.5" height="39.9" fill="#f46133"/>
<rect x="800.5" y="343.2" width="11.8" height="39.9" fill="#fc8243"/>
<rect x="811.6" y="343.2" width="22.0" height="39.9" fill="#fa763d"/>
<rect x="833.1" y="343.2" width="7.2" height="39.9" fill="#f46133"/>
<rect x="839.6" y="343.2" width="6.3" height="39.9" fill="#fb7c40"/>
<rect x="845.3" y="343.2" width="27.5" height="39.9" fill="#fc8c47"/>
<rect x="872.2" y="343.2" width="7.4" height="39.9" fill="#f46133"/>
<rect x="879.0" y="343.2" width="9.6" height="39.9" fill="#fc8c47"/>
<rect x="888.0" y="343.2" width="34.3" height="39.9" fill="#fee090"/>
<rect x="921.7" y="343.2" width="23.1" height="39.9" fill="#d5eef5"/>
<rect x="944.2" y="343.2" width="13.9" height="39.9" fill="#fef0a8"/>
<rect x="957.5" y="343.2" width="13.1" height="39.9" fill="#ffffbf"/>
<rect x="970.0" y="343.2" width="11.5" height="39.9" fill="#f9fdca"/>
<rect x="980.9" y="343.2" width="19.9" height="39.9" fill="#feeca3"/>
<rect x="1000.2" y="343.2" width="33.6" height="39.9" fill="#c0e3ef"/>
<rect x="1033.2" y="343.2" width="6.3" height="39.9" fill="#74add1"/>
<rect x="1038.9" y="343.2" width="5.6" height="39.9" fill="#4575b4"/>
<rect x="1043.9" y="343.2" width="11.3" height="39.9" fill="#37499e"/>
<rect x="1054.7" y="343.2" width="11.1" height="39.9" fill="#588bc0"/>
<rect x="1065.2" y="343.2" width="33.2" height="39.9" fill="#6fa7ce"/>
<rect x="1097.8" y="343.2" width="7.4" height="39.9" fill="#c5e6f0"/>
<rect x="1104.5" y="343.2" width="5.6" height="39.9" fill="#e9f7e7"/>
<rect x="1109.6" y="343.2" width="6.7" height="39.9" fill="#b6deec"/>
<rect x="1115.7" y="343.2" width="22.0" height="39.9" fill="#90c3dd"/>
<rect x="1137.1" y="343.2" width="6.1" height="39.9" fill="#e3f4f2"/>
<rect x="1142.6" y="343.2" width="7.4" height="39.9" fill="#fec877"/>
<rect x="1149.4" y="343.2" width="12.0" height="39.9" fill="#fee395"/>
<rect x="1160.8" y="343.2" width="7.2" height="39.9" fill="#fff6b1"/>
<rect x="1167.3" y="343.2" width="9.1" height="39.9" fill="#fee090"/>
<rect x="1175.8" y="343.2" width="11.3" height="39.9" fill="#fc8c47"/>
<rect x="1186.6" y="343.2" width="7.4" height="39.9" fill="#fed686"/>
<rect x="1193.3" y="343.2" width="6.3" height="39.9" fill="#e9f7e7"/>
<rect x="1199.0" y="343.2" width="6.1" height="39.9" fill="#d5eef5"/>
<rect x="1204.5" y="343.2" width="5.8" height="39.9" fill="#ecf8e1"/>
<rect x="1209.8" y="343.2" width="6.1" height="39.9" fill="#fee090"/>
<rect x="1215.2" y="343.2" width="4.5" height="39.9" fill="#fda456"/>
<rect x="1219.2" y="343.2" width="7.4" height="39.9" fill="#fc8644"/>
<rect x="1225.9" y="343.2" width="6.7" height="39.9" fill="#fdb563"/>
<rect x="1232.1" y="343.2" width="5.6" height="39.9" fill="#fee699"/>
<rect x="1237.1" y="343.2" width="17.4" height="39.9" fill="#f6fbd0"/>
<rect x="1253.9" y="343.2" width="6.3" height="39.9" fill="#fef0a8"/>
<rect x="1259.6" y="343.2" width="5.0" height="39.9" fill="#fed686"/>
<rect x="1264.0" y="343.2" width="7.4" height="39.9" fill="#fef0a8"/>
<rect x="1270.8" y="343.2" width="6.3" height="39.9" fill="#f6fbd0"/>
<rect x="1276.5" y="343.2" width="15.7" height="39.9" fill="#e0f3f8"/>
<rect x="1291.6" y="343.2" width="6.7" height="39.9" fill="#fef0a8"/>
<rect x="1297.7" y="343.2" width="5.2" height="39.9" fill="#fee090"/>
<rect x="1302.3" y="343.2" width="7.4" height="39.9" fill="#fef0a8"/>
<rect x="1309.1" y="343.2" width="15.7" height="39.9" fill="#dbf0f6"/>
<rect x="1324.2" y="343.2" width="18.1" height="39.9" fill="#b0dcea"/>
<rect x="1341.7" y="343.2" width="17.2" height="39.9" fill="#5d91c3"/>
<rect x="1358.3" y="343.2" width="10.9" height="39.9" fill="#4575b4"/>
<rect x="1368.6" y="343.2" width="17.4" height="39.9" fill="#90c3dd"/>
<rect x="1385.4" y="343.2" width="5.2" height="39.9" fill="#7fb6d6"/>
<rect x="1390.0" y="343.2" width="7.4" height="39.9" fill="#90c3dd"/>
<rect x="1396.8" y="343.2" width="6.1" height="39.9" fill="#d5eef5"/>
<rect x="1402.2" y="343.2" width="6.3" height="39.9" fill="#f3fad6"/>
<rect x="1407.9" y="343.2" width="6.3" height="39.9" fill="#fee395"/>
<rect x="1413.6" y="343.2" width="5.0" height="39.9" fill="#fdc372"/>
<rect x="1418.0" y="343.2" width="7.4" height="39.9" fill="#fee395"/>
<rect x="1424.8" y="343.2" width="16.4" height="39.9" fill="#fffcba"/>
<rect x="1440.5" y="343.2" width="7.4" height="39.9" fill="#fee090"/>
<rect x="1447.3" y="343.2" width="6.1" height="39.9" fill="#fdba68"/>
<rect x="1452.8" y="343.2" width="5.2" height="39.9" fill="#fd924a"/>
<rect x="1457.4" y="343.2" width="7.4" height="39.9" fill="#fdbe6d"/>
<rect x="1464.2" y="343.2" width="21.8" height="39.9" fill="#fed686"/>
<rect x="1485.4" y="343.2" width="6.3" height="39.9" fill="#fd9e52"/>
<rect x="1491.1" y="343.2" width="6.3" height="39.9" fill="#cd2627"/>
<rect x="1496.8" y="343.2" width="11.8" height="39.9" fill="#f0552d"/>
<rect x="1507.9" y="343.2" width="27.5" height="39.9" fill="#bb1427"/>
<rect x="1534.8" y="343.2" width="13.1" height="39.9" fill="#da3428"/>
<rect x="1547.3" y="343.2" width="11.8" height="39.9" fill="#f46133"/>
<rect x="1558.4" y="343.2" width="20.7" height="39.9" fill="#fb793f"/>
<rect x="1578.6" y="343.2" width="26.6" height="39.9" fill="#fecf7e"/>
<rect x="1604.6" y="343.2" width="8.5" height="39.9" fill="#fdba68"/>
<rect x="1612.5" y="343.2" width="27.5" height="39.9" fill="#fed988"/>
<rect x="1639.4" y="343.2" width="7.4" height="39.9" fill="#fecd7c"/>
<rect x="1646.2" y="343.2" width="10.7" height="39.9" fill="#fdb563"/>
<rect x="1656.2" y="343.2" width="29.7" height="39.9" fill="#fed686"/>
<rect x="1685.3" y="343.2" width="10.9" height="39.9" fill="#fee090"/>
<rect x="1695.6" y="343.2" width="6.1" height="39.9" fill="#fef0a8"/>
<rect x="1701.1" y="343.2" width="6.3" height="39.9" fill="#fcfec5"/>
<rect x="1706.8" y="343.2" width="5.6" height="39.9" fill="#e9f7e7"/>
<rect x="1711.8" y="343.2" width="5.6" height="39.9" fill="#fff6b1"/>
<rect x="1716.8" y="343.2" width="23.1" height="39.9" fill="#fedb8b"/>
<rect x="1739.3" y="343.2" width="7.4" height="39.9" fill="#fef0a8"/>
<rect x="1746.1" y="343.2" width="10.7" height="39.9" fill="#fee090"/>
<rect x="1756.2" y="343.2" width="24.2" height="39.9" fill="#fedb8b"/>
<rect x="1779.8" y="343.2" width="18.1" height="39.9" fill="#fee395"/>
<rect x="129.5" y="382.6" width="13.3" height="45.9" fill="#3f62ab"/>
<rect x="142.2" y="382.6" width="12.0" height="45.9" fill="#394fa1"/>
<rect x="153.6" y="382.6" width="7.4" height="45.9" fill="#5386bd"/>
<rect x="160.4" y="382.6" width="10.7" height="45.9" fill="#74add1"/>
<rect x="170.5" y="382.6" width="7.4" height="45.9" fill="#a6d5e7"/>
<rect x="177.2" y="382.6" width="11.8" height="45.9" fill="#b0dcea"/>
<rect x="188.4" y="382.6" width="10.7" height="45.9" fill="#90c3dd"/>
<rect x="198.5" y="382.6" width="11.8" height="45.9" fill="#6fa7ce"/>
<rect x="209.6" y="382.6" width="10.9" height="45.9" fill="#b6deec"/>
<rect x="219.9" y="382.6" width="11.8" height="45.9" fill="#dbf0f6"/>
<rect x="231.1" y="382.6" width="7.4" height="45.9" fill="#f6fbd0"/>
<rect x="237.8" y="382.6" width="16.4" height="45.9" fill="#fff6b1"/>
<rect x="253.6" y="382.6" width="11.8" height="45.9" fill="#feeca3"/>
<rect x="264.8" y="382.6" width="6.3" height="45.9" fill="#fffcba"/>
<rect x="270.4" y="382.6" width="17.4" height="45.9" fill="#fff3ac"/>
<rect x="287.3" y="382.6" width="5.0" height="45.9" fill="#fdbe6d"/>
<rect x="291.7" y="382.6" width="23.1" height="45.9" fill="#fb7f42"/>
<rect x="314.2" y="382.6" width="16.4" height="45.9" fill="#f86d39"/>
<rect x="329.9" y="382.6" width="10.7" height="45.9" fill="#ec4e2c"/>
<rect x="340.0" y="382.6" width="9.6" height="45.9" fill="#e3412a"/>
<rect x="349.0" y="382.6" width="26.4" height="45.9" fill="#d12a28"/>
<rect x="374.8" y="382.6" width="10.7" height="45.9" fill="#de3b29"/>
<rect x="384.8" y="382.6" width="9.6" height="45.9" fill="#e94b2c"/>
<rect x="393.8" y="382.6" width="16.4" height="45.9" fill="#f66736"/>
<rect x="409.6" y="382.6" width="22.0" height="45.9" fill="#f25b30"/>
<rect x="431.0" y="382.6" width="20.7" height="45.9" fill="#e7482b"/>
<rect x="451.1" y="382.6" width="34.3" height="45.9" fill="#f46133"/>
<rect x="484.8" y="382.6" width="31.0" height="45.9" fill="#e7482b"/>
<rect x="515.2" y="382.6" width="9.6" height="45.9" fill="#d62f28"/>
<rect x="524.2" y="382.6" width="26.4" height="45.9" fill="#b91226"/>
<rect x="550.0" y="382.6" width="23.1" height="45.9" fill="#b91226"/>
<rect x="572.5" y="382.6" width="18.5" height="45.9" fill="#d62f28"/>
<rect x="590.5" y="382.6" width="18.5" height="45.9" fill="#e5442a"/>
<rect x="608.4" y="382.6" width="15.3" height="45.9" fill="#e94b2c"/>
<rect x="623.1" y="382.6" width="12.8" height="45.9" fill="#e13e2a"/>
<rect x="635.3" y="382.6" width="10.7" height="45.9" fill="#d62f28"/>
<rect x="645.4" y="382.6" width="17.4" height="45.9" fill="#e5442a"/>
<rect x="662.2" y="382.6" width="20.9" height="45.9" fill="#ec4e2c"/>
<rect x="682.6" y="382.6" width="27.5" height="45.9" fill="#f0552d"/>
<rect x="709.5" y="382.6" width="19.6" height="45.9" fill="#e7482b"/>
<rect x="728.5" y="382.6" width="13.1" height="45.9" fill="#f76a38"/>
<rect x="741.0" y="382.6" width="13.9" height="45.9" fill="#e94b2c"/>
<rect x="754.3" y="382.6" width="6.3" height="45.9" fill="#d62f28"/>
<rect x="760.0" y="382.6" width="32.1" height="45.9" fill="#cd2627"/>
<rect x="791.5" y="382.6" width="9.6" height="45.9" fill="#b91226"/>
<rect x="800.5" y="382.6" width="9.6" height="45.9" fill="#e7482b"/>
<rect x="809.4" y="382.6" width="23.1" height="45.9" fill="#ee522c"/>
<rect x="832.0" y="382.6" width="7.2" height="45.9" fill="#de3b29"/>
<rect x="838.5" y="382.6" width="9.6" height="45.9" fill="#f35e32"/>
<rect x="847.5" y="382.6" width="14.2" height="45.9" fill="#fb7c40"/>
<rect x="861.1" y="382.6" width="11.8" height="45.9" fill="#f56434"/>
<rect x="872.2" y="382.6" width="7.4" height="45.9" fill="#e7482b"/>
<rect x="879.0" y="382.6" width="5.2" height="45.9" fill="#f76a38"/>
<rect x="883.6" y="382.6" width="22.9" height="45.9" fill="#fdaa5a"/>
<rect x="905.9" y="382.6" width="16.4" height="45.9" fill="#fd984e"/>
<rect x="921.7" y="382.6" width="27.5" height="45.9" fill="#fecf7e"/>
<rect x="948.6" y="382.6" width="9.6" height="45.9" fill="#fda456"/>
<rect x="957.5" y="382.6" width="13.1" height="45.9" fill="#fdbe6d"/>
<rect x="970.0" y="382.6" width="11.5" height="45.9" fill="#fee090"/>
<rect x="980.9" y="382.6" width="19.6" height="45.9" fill="#fecd7c"/>
<rect x="1000.0" y="382.6" width="5.2" height="45.9" fill="#c5e6f0"/>
<rect x="1004.6" y="382.6" width="29.3" height="45.9" fill="#a0d0e4"/>
<rect x="1033.2" y="382.6" width="27.1" height="45.9" fill="#37499e"/>
<rect x="1059.7" y="382.6" width="11.8" height="45.9" fill="#588bc0"/>
<rect x="1070.8" y="382.6" width="6.3" height="45.9" fill="#6197c5"/>
<rect x="1076.5" y="382.6" width="21.8" height="45.9" fill="#436fb1"/>
<rect x="1097.8" y="382.6" width="11.8" height="45.9" fill="#669cc8"/>
<rect x="1108.9" y="382.6" width="7.4" height="45.9" fill="#4575b4"/>
<rect x="1115.7" y="382.6" width="22.0" height="45.9" fill="#37499e"/>
<rect x="1137.1" y="382.6" width="6.1" height="45.9" fill="#6197c5"/>
<rect x="1142.6" y="382.6" width="12.0" height="45.9" fill="#a6d5e7"/>
<rect x="1154.0" y="382.6" width="11.8" height="45.9" fill="#669cc8"/>
<rect x="1165.1" y="382.6" width="10.7" height="45.9" fill="#8abfdb"/>
<rect x="1175.2" y="382.6" width="13.1" height="45.9" fill="#b6deec"/>
<rect x="1187.7" y="382.6" width="6.3" height="45.9" fill="#9acce2"/>
<rect x="1193.3" y="382.6" width="17.0" height="45.9" fill="#7ab1d3"/>
<rect x="1209.8" y="382.6" width="5.4" height="45.9" fill="#d5eef5"/>
<rect x="1214.6" y="382.6" width="5.2" height="45.9" fill="#fee395"/>
<rect x="1219.2" y="382.6" width="7.4" height="45.9" fill="#fdc372"/>
<rect x="1225.9" y="382.6" width="6.7" height="45.9" fill="#fee090"/>
<rect x="1232.1" y="382.6" width="6.7" height="45.9" fill="#fcfec5"/>
<rect x="1238.2" y="382.6" width="16.4" height="45.9" fill="#e9f7e7"/>
<rect x="1253.9" y="382.6" width="6.3" height="45.9" fill="#fff6b1"/>
<rect x="1259.6" y="382.6" width="5.0" height="45.9" fill="#fed686"/>
<rect x="1264.0" y="382.6" width="7.4" height="45.9" fill="#f6fbd0"/>
<rect x="1270.8" y="382.6" width="10.9" height="45.9" fill="#dbf0f6"/>
<rect x="1281.1" y="382.6" width="6.1" height="45.9" fill="#e9f7e7"/>
<rect x="1286.5" y="382.6" width="6.3" height="45.9" fill="#fff6b1"/>
<rect x="1292.2" y="382.6" width="6.1" height="45.9" fill="#fec877"/>
<rect x="1297.7" y="382.6" width="10.9" height="45.9" fill="#fdb563"/>
<rect x="1308.0" y="382.6" width="17.4" height="45.9" fill="#feeca3"/>
<rect x="1324.8" y="382.6" width="11.8" height="45.9" fill="#e0f3f8"/>
<rect x="1336.0" y="382.6" width="6.3" height="45.9" fill="#fff9b6"/>
<rect x="1341.7" y="382.6" width="6.1" height="45.9" fill="#4a7bb7"/>
<rect x="1347.1" y="382.6" width="14.2" height="45.9" fill="#3b56a5"/>
<rect x="1360.7" y="382.6" width="29.9" height="45.9" fill="#35439b"/>
<rect x="1390.0" y="382.6" width="11.8" height="45.9" fill="#35439b"/>
<rect x="1401.2" y="382.6" width="7.4" height="45.9" fill="#3d5ca8"/>
<rect x="1407.9" y="382.6" width="5.2" height="45.9" fill="#669cc8"/>
<rect x="1412.5" y="382.6" width="6.1" height="45.9" fill="#7ab1d3"/>
<rect x="1418.0" y="382.6" width="6.3" height="45.9" fill="#588bc0"/>
<rect x="1423.7" y="382.6" width="7.4" height="45.9" fill="#4168ae"/>
<rect x="1430.5" y="382.6" width="16.4" height="45.9" fill="#5d91c3"/>
<rect x="1446.2" y="382.6" width="6.3" height="45.9" fill="#95c7df"/>
<rect x="1451.9" y="382.6" width="6.1" height="45.9" fill="#a6d5e7"/>
<rect x="1457.4" y="382.6" width="7.4" height="45.9" fill="#74add1"/>
<rect x="1464.2" y="382.6" width="21.8" height="45.9" fill="#669cc8"/>
<rect x="1485.4" y="382.6" width="6.3" height="45.9" fill="#abd9e9"/>
<rect x="1491.1" y="382.6" width="7.4" height="45.9" fill="#fef0a8"/>
<rect x="1497.8" y="382.6" width="10.7" height="45.9" fill="#f9fdca"/>
<rect x="1507.9" y="382.6" width="9.6" height="45.9" fill="#fecd7c"/>
<rect x="1516.9" y="382.6" width="8.5" height="45.9" fill="#fda456"/>
<rect x="1524.8" y="382.6" width="6.3" height="45.9" fill="#f46133"/>
<rect x="1530.4" y="382.6" width="17.4" height="45.9" fill="#d62f28"/>
<rect x="1547.3" y="382.6" width="9.6" height="45.9" fill="#e7482b"/>
<rect x="1556.2" y="382.6" width="7.2" height="45.9" fill="#d12a28"/>
<rect x="1562.8" y="382.6" width="12.0" height="45.9" fill="#bb1427"/>
<rect x="1574.2" y="382.6" width="31.0" height="45.9" fill="#e94b2c"/>
<rect x="1604.6" y="382.6" width="11.8" height="45.9" fill="#f46133"/>
<rect x="1615.8" y="382.6" width="24.2" height="45.9" fill="#fa733c"/>
<rect x="1639.4" y="382.6" width="9.6" height="45.9" fill="#f0552d"/>
<rect x="1648.3" y="382.6" width="14.2" height="45.9" fill="#f86d39"/>
<rect x="1661.9" y="382.6" width="18.5" height="45.9" fill="#f46133"/>
<rect x="1679.8" y="382.6" width="6.1" height="45.9" fill="#e3412a"/>
<rect x="1685.3" y="382.6" width="6.3" height="45.9" fill="#cd2627"/>
<rect x="1691.0" y="382.6" width="5.2" height="45.9" fill="#f0552d"/>
<rect x="1695.6" y="382.6" width="28.6" height="45.9" fill="#fb793f"/>
<rect x="1723.6" y="382.6" width="9.6" height="45.9" fill="#f46133"/>
<rect x="1732.6" y="382.6" width="15.3" height="45.9" fill="#fb7f42"/>
<rect x="1747.2" y="382.6" width="16.4" height="45.9" fill="#fd9e52"/>
<rect x="1763.0" y="382.6" width="6.1" height="45.9" fill="#fd924a"/>
<rect x="1768.4" y="382.6" width="8.5" height="45.9" fill="#fdbe6d"/>
<rect x="1776.3" y="382.6" width="8.5" height="45.9" fill="#fef0a8"/>
<rect x="1784.2" y="382.6" width="13.7" height="45.9" fill="#eff9dc"/>
</g></g>
<text x="135" y="210.8" font-family="DejaVu Sans, Liberation Sans, sans-serif" font-size="15.6" fill="#31426a" text-anchor="end">&gt;10k</text>
<text x="135" y="250.2" font-family="DejaVu Sans, Liberation Sans, sans-serif" font-size="15.6" fill="#31426a" text-anchor="end">1k-10k</text>
<text x="135" y="289.6" font-family="DejaVu Sans, Liberation Sans, sans-serif" font-size="15.6" fill="#31426a" text-anchor="end">100-1k</text>
<text x="135" y="329.1" font-family="DejaVu Sans, Liberation Sans, sans-serif" font-size="15.6" fill="#31426a" text-anchor="end">10-100</text>
<text x="135" y="368.5" font-family="DejaVu Sans, Liberation Sans, sans-serif" font-size="15.6" fill="#31426a" text-anchor="end">1-10</text>
<text x="135" y="407.9" font-family="DejaVu Sans, Liberation Sans, sans-serif" font-size="15.6" fill="#31426a" text-anchor="end">&lt;1</text>
<text transform="translate(53,303.5) rotate(-90)" font-family="DejaVu Sans, Liberation Sans, sans-serif" font-size="18.9" fill="#31426a" text-anchor="middle">Cohorts by BTC</text>
<g opacity="0.075"><text x="716" y="323.5" font-family="Liberation Sans, sans-serif" font-size="99" textLength="492" lengthAdjust="spacingAndGlyphs" fill="#4a5068" stroke="#4a5068" stroke-width="2.5">glassnode</text></g>
<rect x="137.5" y="506.0" width="1651.8" height="234.29999999999995" fill="#e5ecf6"/>
<line x1="137.5" x2="1789.3" y1="531.6" y2="531.6" stroke="#fff" stroke-opacity="0.68" stroke-width="1.35"/>
<text x="135" y="537.2" font-family="DejaVu Sans, Liberation Sans, sans-serif" font-size="15.6" fill="#31426a" text-anchor="end">120k</text>
<line x1="137.5" x2="1789.3" y1="576.8" y2="576.8" stroke="#fff" stroke-opacity="0.68" stroke-width="1.35"/>
<text x="135" y="582.4" font-family="DejaVu Sans, Liberation Sans, sans-serif" font-size="15.6" fill="#31426a" text-anchor="end">110k</text>
<line x1="137.5" x2="1789.3" y1="622.0" y2="622.0" stroke="#fff" stroke-opacity="0.68" stroke-width="1.35"/>
<text x="135" y="627.6" font-family="DejaVu Sans, Liberation Sans, sans-serif" font-size="15.6" fill="#31426a" text-anchor="end">100k</text>
<line x1="137.5" x2="1789.3" y1="667.2" y2="667.2" stroke="#fff" stroke-opacity="0.68" stroke-width="1.35"/>
<text x="135" y="672.8" font-family="DejaVu Sans, Liberation Sans, sans-serif" font-size="15.6" fill="#31426a" text-anchor="end">90k</text>
<line x1="137.5" x2="1789.3" y1="712.3" y2="712.3" stroke="#fff" stroke-opacity="0.68" stroke-width="1.35"/>
<text x="135" y="717.9" font-family="DejaVu Sans, Liberation Sans, sans-serif" font-size="15.6" fill="#31426a" text-anchor="end">80k</text>
<line x1="272.8" x2="272.8" y1="506.0" y2="740.3" stroke="#fff" stroke-opacity="0.68" stroke-width="1.35"/>
<text x="272.8" y="758.4" font-family="DejaVu Sans, Liberation Sans, sans-serif" font-size="15.6" fill="#31426a" text-anchor="middle">Jan 2025</text>
<line x1="444.6" x2="444.6" y1="506.0" y2="740.3" stroke="#fff" stroke-opacity="0.68" stroke-width="1.35"/>
<text x="444.6" y="758.4" font-family="DejaVu Sans, Liberation Sans, sans-serif" font-size="15.6" fill="#31426a" text-anchor="middle">Feb 2025</text>
<line x1="599.4" x2="599.4" y1="506.0" y2="740.3" stroke="#fff" stroke-opacity="0.68" stroke-width="1.35"/>
<text x="599.4" y="758.4" font-family="DejaVu Sans, Liberation Sans, sans-serif" font-size="15.6" fill="#31426a" text-anchor="middle">Mar 2025</text>
<line x1="770.6" x2="770.6" y1="506.0" y2="740.3" stroke="#fff" stroke-opacity="0.68" stroke-width="1.35"/>
<text x="770.6" y="758.4" font-family="DejaVu Sans, Liberation Sans, sans-serif" font-size="15.6" fill="#31426a" text-anchor="middle">Apr 2025</text>
<line x1="936.0" x2="936.0" y1="506.0" y2="740.3" stroke="#fff" stroke-opacity="0.68" stroke-width="1.35"/>
<text x="936.0" y="758.4" font-family="DejaVu Sans, Liberation Sans, sans-serif" font-size="15.6" fill="#31426a" text-anchor="middle">May 2025</text>
<line x1="1107.0" x2="1107.0" y1="506.0" y2="740.3" stroke="#fff" stroke-opacity="0.68" stroke-width="1.35"/>
<text x="1107.0" y="758.4" font-family="DejaVu Sans, Liberation Sans, sans-serif" font-size="15.6" fill="#31426a" text-anchor="middle">Jun 2025</text>
<line x1="1272.3" x2="1272.3" y1="506.0" y2="740.3" stroke="#fff" stroke-opacity="0.68" stroke-width="1.35"/>
<text x="1272.3" y="758.4" font-family="DejaVu Sans, Liberation Sans, sans-serif" font-size="15.6" fill="#31426a" text-anchor="middle">Jul 2025</text>
<line x1="1444.0" x2="1444.0" y1="506.0" y2="740.3" stroke="#fff" stroke-opacity="0.68" stroke-width="1.35"/>
<text x="1444.0" y="758.4" font-family="DejaVu Sans, Liberation Sans, sans-serif" font-size="15.6" fill="#31426a" text-anchor="middle">Aug 2025</text>
<line x1="1615.3" x2="1615.3" y1="506.0" y2="740.3" stroke="#fff" stroke-opacity="0.68" stroke-width="1.35"/>
<text x="1615.3" y="758.4" font-family="DejaVu Sans, Liberation Sans, sans-serif" font-size="15.6" fill="#31426a" text-anchor="middle">Sep 2025</text>
<line x1="1780.4" x2="1780.4" y1="506.0" y2="740.3" stroke="#fff" stroke-opacity="0.68" stroke-width="1.35"/>
<text x="1780.4" y="758.4" font-family="DejaVu Sans, Liberation Sans, sans-serif" font-size="15.6" fill="#31426a" text-anchor="middle">Oct 2025</text>
<text transform="translate(70,622.5) rotate(-90)" font-family="DejaVu Sans, Liberation Sans, sans-serif" font-size="18.9" fill="#31426a" text-anchor="middle">Price</text>
<g opacity="0.13"><text x="715" y="656.7" font-family="Liberation Sans, sans-serif" font-size="108" textLength="494" lengthAdjust="spacingAndGlyphs" fill="#4a5068" stroke="#4a5068" stroke-width="2.5">glassnode</text></g>
<path d="M140.4,616.7 L145.5,633.4 L151.4,637.2 L157.0,616.4 L162.7,621.5 L168.4,615.8 L173.9,615.4 L179.5,602.0 L184.8,595.0 L190.1,594.0 L195.6,616.7 L200.9,632.2 L206.6,632.8 L212.3,635.6 L217.6,644.5 L223.0,646.0 L228.5,627.7 L234.0,625.8 L239.7,641.3 L245.2,648.9 L250.7,643.2 L256.3,650.4 L261.8,655.5 L267.3,651.3 L272.8,647.6 L278.5,637.2 L283.9,631.5 L289.4,630.3 L295.1,629.0 L300.6,613.0 L306.1,635.6 L311.5,645.7 L317.0,655.9 L322.5,646.0 L328.0,646.4 L333.7,647.4 L339.2,647.9 L344.6,637.5 L350.1,621.5 L355.6,622.0 L361.1,603.1 L366.6,602.0 L372.3,614.5 L377.7,613.0 L383.2,595.0 L388.9,604.4 L394.4,603.5 L399.9,601.0 L405.3,600.3 L411.0,609.7 L416.5,613.5 L422.0,616.7 L427.5,605.4 L433.1,600.3 L438.6,611.4 L444.1,620.1 L449.6,632.8 L455.3,616.4 L460.4,631.4 L465.9,636.7 L471.4,638.1 L476.9,638.2 L482.3,638.1 L488.0,638.4 L493.5,633.9 L499.2,641.5 L504.7,631.1 L510.1,637.1 L515.6,633.0 L521.1,632.6 L526.8,639.2 L532.3,640.9 L537.7,641.7 L543.2,637.7 L548.7,629.5 L554.4,639.2 L559.9,637.3 L565.4,639.0 L571.0,661.7 L576.5,672.7 L582.0,693.8 L587.5,691.6 L593.2,692.9 L598.6,684.6 L604.1,648.1 L609.8,683.6 L615.3,679.7 L620.8,663.8 L626.3,667.0 L631.7,681.2 L637.4,683.6 L642.9,709.5 L648.4,718.6 L653.9,699.1 L659.3,695.7 L665.0,707.1 L670.5,694.4 L676.0,692.9 L681.5,701.0 L687.1,694.4 L692.6,699.5 L698.1,682.1 L703.6,693.1 L709.3,693.8 L714.8,694.8 L720.2,684.4 L725.7,678.3 L731.2,678.3 L736.9,680.6 L742.4,679.7 L747.9,691.6 L753.3,699.5 L759.0,701.0 L764.5,700.1 L770.0,689.7 L775.5,700.4 L781.1,697.2 L786.6,694.5 L792.1,697.2 L797.7,719.1 L803.2,716.0 L808.7,728.7 L814.3,701.1 L819.8,713.6 L825.3,697.2 L830.9,688.1 L836.4,695.7 L841.9,691.5 L847.4,696.2 L853.0,694.0 L858.5,689.8 L864.0,692.3 L869.6,689.4 L875.1,688.5 L880.6,679.1 L886.2,651.5 L891.7,650.0 L897.2,648.3 L902.8,645.5 L908.3,646.2 L913.8,650.4 L919.4,644.7 L924.9,647.2 L930.4,648.3 L936.0,638.7 L941.5,635.5 L947.0,640.4 L952.6,646.8 L958.1,645.1 L963.6,636.0 L969.1,634.5 L974.7,607.2 L980.2,608.9 L985.7,600.4 L991.3,603.6 L996.8,610.0 L1002.3,603.6 L1007.9,605.7 L1013.4,605.1 L1018.9,606.4 L1024.5,607.9 L1030.0,592.6 L1035.5,596.6 L1041.1,591.5 L1046.6,579.6 L1052.1,569.6 L1057.7,588.7 L1063.2,587.2 L1068.7,581.3 L1074.3,579.1 L1079.8,581.3 L1085.3,586.6 L1090.9,596.2 L1096.4,603.6 L1101.5,600.0 L1107.0,595.7 L1112.6,594.7 L1118.1,597.4 L1123.6,601.7 L1128.7,614.9 L1134.3,604.3 L1139.8,596.8 L1145.3,595.7 L1150.9,574.9 L1156.4,575.5 L1161.9,581.9 L1167.9,595.7 L1173.4,593.6 L1178.9,597.2 L1184.5,596.8 L1190.0,591.1 L1195.5,601.1 L1201.1,599.6 L1206.6,600.4 L1212.1,605.7 L1217.7,612.1 L1223.2,618.1 L1228.7,597.9 L1234.3,593.6 L1239.8,588.3 L1245.3,590.0 L1250.9,589.8 L1256.4,588.9 L1261.9,584.0 L1267.4,590.4 L1273.0,596.8 L1278.5,581.9 L1284.0,578.7 L1289.6,585.7 L1295.1,585.1 L1300.6,580.4 L1306.2,584.5 L1311.7,581.9 L1317.2,570.2 L1322.8,551.1 L1328.3,543.6 L1333.8,543.2 L1339.4,535.1 L1344.9,532.3 L1350.4,542.6 L1356.0,537.9 L1361.5,535.1 L1367.0,540.4 L1372.6,541.1 L1378.1,544.0 L1383.6,543.6 L1389.1,531.5 L1394.7,537.2 L1400.2,539.4 L1405.7,542.6 L1411.3,540.4 L1416.8,534.0 L1421.9,540.0 L1427.4,540.4 L1433.0,541.5 L1438.5,551.1 L1444.0,561.1 L1449.6,566.0 L1454.7,557.4 L1460.2,554.3 L1465.7,557.9 L1471.7,554.9 L1477.2,543.2 L1482.8,545.7 L1488.3,547.9 L1493.8,534.7 L1499.4,537.9 L1504.9,531.9 L1510.4,517.0 L1516.0,538.7 L1521.5,543.2 L1527.0,543.2 L1532.6,543.2 L1538.1,548.9 L1543.6,564.5 L1549.1,557.4 L1554.7,564.9 L1560.2,545.7 L1565.7,552.1 L1571.3,560.2 L1576.8,574.9 L1582.3,568.7 L1587.9,570.9 L1593.4,566.0 L1598.9,584.0 L1604.5,581.9 L1610.0,584.7 L1615.5,580.4 L1621.1,570.6 L1626.6,569.1 L1632.1,573.4 L1637.7,574.0 L1643.2,575.1 L1648.7,571.7 L1654.3,567.7 L1659.8,569.1 L1664.9,558.5 L1670.4,552.1 L1676.0,549.6 L1681.5,550.4 L1687.0,552.8 L1692.6,552.1 L1698.1,545.7 L1703.6,547.2 L1709.1,545.1 L1714.7,550.6 L1720.2,550.6 L1725.7,552.8 L1731.3,563.2 L1736.8,567.7 L1742.3,562.1 L1747.9,580.9 L1753.4,578.3 L1758.9,578.1 L1764.5,567.7 L1770.0,557.0 L1775.5,557.9 L1781.1,538.3 L1786.6,529.4" fill="none" stroke="#7a7d82" stroke-width="2.1" stroke-linejoin="round"/>
<defs><linearGradient id="cb" x1="0" y1="1" x2="0" y2="0">
<stop offset="0.0" stop-color="rgb(182, 18, 45)"/>
<stop offset="0.05" stop-color="rgb(212, 42, 40)"/>
<stop offset="0.1" stop-color="rgb(235, 75, 42)"/>
<stop offset="0.15" stop-color="rgb(245, 100, 50)"/>
<stop offset="0.2" stop-color="rgb(251, 124, 58)"/>
<stop offset="0.25" stop-color="rgb(253, 150, 72)"/>
<stop offset="0.3" stop-color="rgb(253, 176, 92)"/>
<stop offset="0.4" stop-color="rgb(254, 224, 144)"/>
<stop offset="0.5" stop-color="rgb(255, 255, 191)"/>
<stop offset="0.6" stop-color="rgb(224, 243, 248)"/>
<stop offset="0.7" stop-color="rgb(171, 217, 233)"/>
<stop offset="0.8" stop-color="rgb(116, 173, 209)"/>
<stop offset="0.9" stop-color="rgb(69, 117, 180)"/>
<stop offset="1.0" stop-color="rgb(49, 54, 149)"/>
</linearGradient></defs>
<rect x="1836" y="199" width="40" height="528.5" fill="url(#cb)"/>
<text x="1881" y="733.1" font-family="DejaVu Sans, Liberation Sans, sans-serif" font-size="15.6" fill="#31426a">0</text>
<text x="1881" y="627.4" font-family="DejaVu Sans, Liberation Sans, sans-serif" font-size="15.6" fill="#31426a">0.2</text>
<text x="1881" y="521.7" font-family="DejaVu Sans, Liberation Sans, sans-serif" font-size="15.6" fill="#31426a">0.4</text>
<text x="1881" y="416.0" font-family="DejaVu Sans, Liberation Sans, sans-serif" font-size="15.6" fill="#31426a">0.6</text>
<text x="1881" y="310.3" font-family="DejaVu Sans, Liberation Sans, sans-serif" font-size="15.6" fill="#31426a">0.8</text>
<text x="1881" y="204.6" font-family="DejaVu Sans, Liberation Sans, sans-serif" font-size="15.6" fill="#31426a">1</text>
<text x="140" y="802.8" font-family="DejaVu Sans, Liberation Sans, sans-serif" font-size="20" fill="#a9aec6">Based on data from 2025-10-03</text>
<text x="1785" y="802.8" font-family="DejaVu Sans, Liberation Sans, sans-serif" font-size="20" fill="#a9aec6" text-anchor="end">© 2025 Glassnode. All Rights Reserved</text>
</svg>
</body></html>
